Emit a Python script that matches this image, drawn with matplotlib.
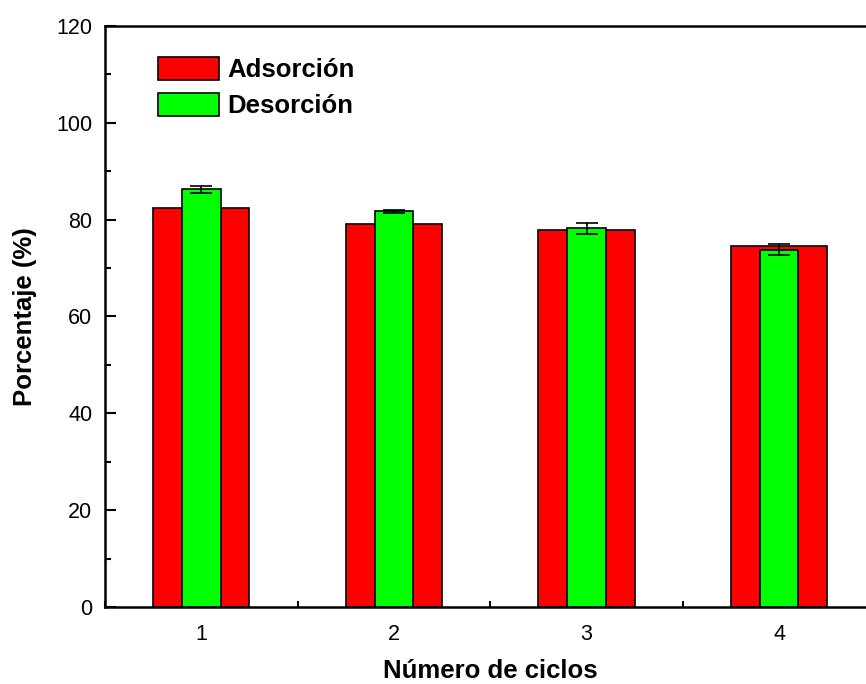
import numpy as np
import matplotlib
matplotlib.use("Agg")
import matplotlib.pyplot as plt
from matplotlib.ticker import MultipleLocator

plt.rcParams['font.family'] = ['Liberation Sans', 'DejaVu Sans']

ciclos = [1, 2, 3, 4]
adsorcion = [82.5, 79.2, 77.8, 74.6]
desorcion = [86.3, 81.7, 78.2, 73.8]
desorcion_err = [0.7, 0.3, 1.2, 1.2]

fig = plt.figure(figsize=(8.66, 6.84), dpi=100)
ax = fig.add_axes([0.1212, 0.1126, 1.011 - 0.1212, 0.962 - 0.1126])

ax.bar(ciclos, adsorcion, width=0.5, color='#ff0000', edgecolor='black',
       linewidth=1.2, label='Adsorción', zorder=2)
ax.bar(ciclos, desorcion, width=0.2, color='#00ff00', edgecolor='black',
       linewidth=1.2, label='Desorción', zorder=3,
       yerr=desorcion_err, error_kw=dict(ecolor='black', elinewidth=1.2,
                                          capsize=8, capthick=1.2, zorder=4))

ax.set_xlim(0.5, 4.5)
ax.set_ylim(0, 120)
ax.set_xticks(ciclos)
ax.xaxis.set_minor_locator(MultipleLocator(0.5))
ax.yaxis.set_major_locator(MultipleLocator(20))
ax.yaxis.set_minor_locator(MultipleLocator(10))

ax.tick_params(which='both', direction='in', top=False, right=False, width=1.5)
ax.tick_params(which='major', length=8, labelsize=15.5)
ax.tick_params(axis='x', which='major', pad=12)
ax.tick_params(axis='y', which='major', pad=9)
ax.tick_params(which='minor', length=4)
for s in ax.spines.values():
    s.set_linewidth(1.8)

ax.set_xlabel('Número de ciclos', fontsize=18.5, fontweight='bold', labelpad=10)
ax.set_ylabel('Porcentaje (%)', fontsize=18.5, fontweight='bold', labelpad=14)

ax.legend(loc='upper left', bbox_to_anchor=(0.055, 0.965), frameon=False,
          prop=dict(weight='bold', size=18.5), handlelength=2.4,
          handleheight=1.0, handletextpad=0.3, labelspacing=0.42,
          borderaxespad=0)

fig.savefig('out.png', dpi=100)
